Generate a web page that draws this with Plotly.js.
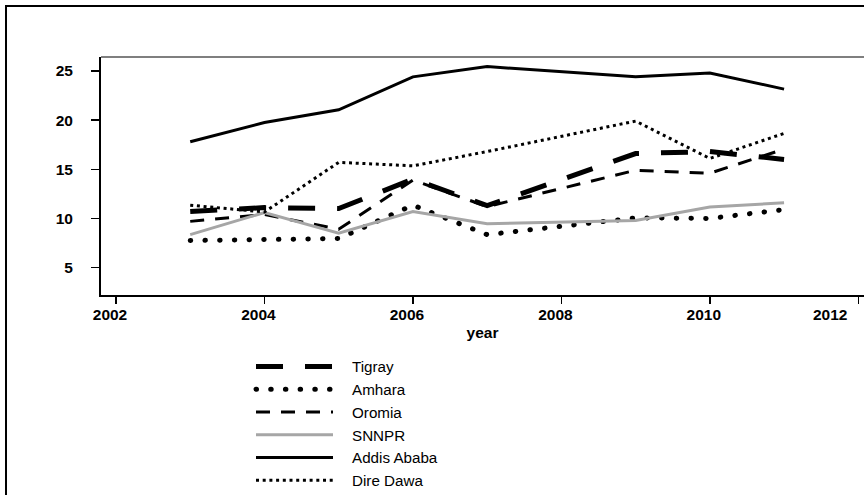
<!DOCTYPE html>
<html>
<head>
<meta charset="utf-8">
<script src="https://cdn.plot.ly/plotly-3.0.1.min.js"></script>
<style>
  html, body { margin: 0; padding: 0; background: #fff; overflow: hidden; }
  #chart { width: 864px; height: 495px; }
  /* Amhara is drawn as round dots */
  .scatterlayer .trace:nth-of-type(2) path.js-line,
  .legend .traces:nth-of-type(2) path.js-line { stroke-linecap: round; }
  /* legend keys sit a little lower, with a wider gap before each label */
  .legend path.js-line { transform: translateY(4px); }
  .legend text.legendtext { transform: translate(14px, 4px); }
  .legend .scrollbox { clip-path: none !important; }
</style>
</head>
<body>
<div id="chart"></div>
<script>
// Survey years (no 2008 round)
const years = [2003, 2004, 2005, 2006, 2007, 2009, 2010, 2011];

const regionNames = ['Tigray', 'Amhara', 'Oromia', 'SNNPR', 'Addis Ababa', 'Dire Dawa'];

const tigray     = [10.7, 11.1, 11.0, 14.0, 11.3, 16.6, 16.8, 16.0];
const amhara     = [7.75, 7.9, 7.95, 11.35, 8.35, 10.05, 10.0, 10.9];
const oromia     = [9.7, 10.4, 8.9, 13.9, 11.2, 14.9, 14.6, 17.05];
const snnpr      = [8.35, 10.6, 8.5, 10.7, 9.45, 9.8, 11.15, 11.6];
const addisAbaba = [17.8, 19.75, 21.05, 24.4, 25.45, 24.4, 24.8, 23.15];
const direDawa   = [11.35, 10.65, 15.7, 15.35, 16.8, 19.9, 16.1, 18.65];

const xTicks = [2002, 2004, 2006, 2008, 2010, 2012];
const yTicks = [5, 10, 15, 20, 25];

const seriesValues = [tigray, amhara, oromia, snnpr, addisAbaba, direDawa];

const lineStyles = [
  { color: '#000000', width: 5,   dash: '27px,22px' },
  { color: '#000000', width: 5,   dash: '0.5px,14.2px' },
  { color: '#000000', width: 3,   dash: '14px,11px' },
  { color: '#a6a6a6', width: 3,   dash: 'solid' },
  { color: '#000000', width: 3,   dash: 'solid' },
  { color: '#000000', width: 3,   dash: '3px,3.7px' }
];

const traces = regionNames.map((name, i) => ({
  type: 'scatter',
  mode: 'lines',
  name: name,
  x: years,
  y: seriesValues[i],
  line: lineStyles[i],
  hoverinfo: 'skip'
}));

const FONT = 'Liberation Sans, Arial, Helvetica, sans-serif';
const tickFont = { family: FONT, size: 15.5, color: '#000', weight: 'bold' };

// the last year label is pulled in from the figure's right edge,
// so it is placed as an annotation on its tick instead of the axis label slot
const lastTick = xTicks[xTicks.length - 1];
const xTickText = xTicks.map(t => (t === lastTick ? '' : String(t)));

const layout = {
  width: 864,
  height: 495,
  margin: { l: 101, r: 0, t: 57, b: 199.5, pad: 0, autoexpand: false },
  paper_bgcolor: '#ffffff',
  plot_bgcolor: '#ffffff',
  font: { family: FONT, color: '#000000' },
  showlegend: true,
  legend: {
    x: 0.1966, xanchor: 'left',
    y: -0.2147, yanchor: 'top',
    bgcolor: 'rgba(0,0,0,0)',
    borderwidth: 0,
    itemwidth: 77,
    font: { family: FONT, size: 15.2, color: '#000000' },
    traceorder: 'normal'
  },
  xaxis: {
    range: [2001.798, 2012.077],
    tickmode: 'array',
    tickvals: xTicks,
    ticktext: xTickText,
    ticks: 'outside', ticklen: 7, tickwidth: 1.5, tickcolor: '#000',
    ticklabelshift: -6,
    ticklabelstandoff: -3,
    tickfont: tickFont,
    showline: true, linewidth: 2, linecolor: '#000',
    showgrid: false, zeroline: false,
    title: { text: 'year', font: { family: FONT, size: 15.5, color: '#000', weight: 'bold' }, standoff: 6 }
  },
  yaxis: {
    range: [2.21, 26.42],
    tickmode: 'array',
    tickvals: yTicks,
    ticktext: yTicks.map(String),
    ticks: 'outside', ticklen: 8, tickwidth: 1.5, tickcolor: '#000',
    ticklabelstandoff: 15,
    tickfont: tickFont,
    showline: true, linewidth: 2, linecolor: '#000',
    showgrid: false, zeroline: false
  },
  annotations: [
    { x: lastTick, xref: 'x', y: 0, yref: 'paper', text: String(lastTick),
      showarrow: false, xanchor: 'center', yanchor: 'middle',
      xshift: -28, yshift: -19.5, font: tickFont }
  ],
  shapes: [
    // top edge of the plotting region
    { type: 'line', xref: 'paper', yref: 'paper', x0: 0, x1: 1, y0: 1, y1: 1,
      line: { color: '#000', width: 1.2 } },
    // outer figure frame
    { type: 'rect', xref: 'paper', yref: 'paper', x0: -0.1245, x1: 1.5, y0: -1.5, y1: 1.2138,
      line: { color: '#000', width: 2 }, fillcolor: 'rgba(0,0,0,0)' }
  ]
};

Plotly.newPlot('chart', traces, layout, { staticPlot: true, displayModeBar: false });
</script>
</body>
</html>
